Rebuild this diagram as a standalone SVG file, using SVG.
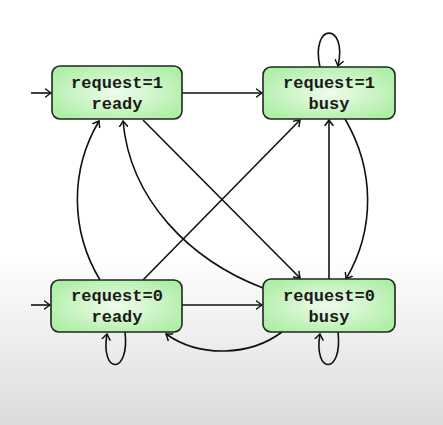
<svg xmlns="http://www.w3.org/2000/svg" width="443" height="425" viewBox="0 0 443 425">
<defs>
<linearGradient id="bg" x1="0" y1="0" x2="0" y2="425" gradientUnits="userSpaceOnUse">
<stop offset="0" stop-color="#ffffff"/>
<stop offset="0.6" stop-color="#ffffff"/>
<stop offset="1" stop-color="#dcdcdc"/>
</linearGradient>
<radialGradient id="nodefill" cx="0.5" cy="0.5" r="0.6">
<stop offset="0" stop-color="#effcec"/>
<stop offset="1" stop-color="#aeeea6"/>
</radialGradient>
<marker id="arr" viewBox="-6 -5 7 10" refX="0" refY="0" markerWidth="7" markerHeight="10" markerUnits="userSpaceOnUse" orient="auto">
<path d="M -5.5 -4 Q -1.5 -1 0 0 Q -1.5 1 -5.5 4" fill="none" stroke="#111" stroke-width="1.5" stroke-linecap="round"/>
</marker>
<style>
.node rect{fill:url(#nodefill);stroke:#1c2a1c;stroke-width:1.6}
.node text{font-family:"Liberation Mono","DejaVu Sans Mono",monospace;font-size:17px;font-weight:bold;fill:#1a1a1a;text-anchor:middle}
.edge{fill:none;stroke:#111;stroke-width:1.6;marker-end:url(#arr)}
</style>
</defs>
<rect x="0" y="0" width="443" height="425" fill="url(#bg)"/>
<g id="connectors">
<path class="edge" d="M 31 93 L 51 93"/>
<path class="edge" d="M 31 305 L 50 305"/>
<path class="edge" d="M 182 93 L 262 93"/>
<path class="edge" d="M 182 305 L 262 305"/>
<path class="edge" d="M 143 120 L 300 278"/>
<path class="edge" d="M 143 280 L 300 120"/>
<path class="edge" d="M 329 279 L 329 120"/>
<path class="edge" d="M 100 280 C 70 230, 70 170, 99 121"/>
<path class="edge" d="M 345 119 C 375 170, 375 230, 346 279"/>
<path class="edge" d="M 263 288 C 190 260, 130 200, 123 121"/>
<path class="edge" d="M 282 332 C 250 356, 200 358, 166 334"/>
<path class="edge" d="M 320 67 C 310 22, 348 22, 338 66"/>
<path class="edge" d="M 125 332 C 130 375, 100 375, 107 334"/>
<path class="edge" d="M 338 332 C 343 375, 313 375, 320 334"/>
</g>
<g id="n_r1_ready" class="node">
<rect x="52" y="66" width="130" height="53" rx="8"/>
<text x="117" y="88">request=1</text>
<text x="117" y="109">ready</text>
</g>
<g id="n_r1_busy" class="node">
<rect x="263" y="67" width="132" height="52" rx="8"/>
<text x="329" y="88">request=1</text>
<text x="329" y="109">busy</text>
</g>
<g id="n_r0_ready" class="node">
<rect x="51" y="280" width="131" height="52" rx="8"/>
<text x="117" y="301">request=0</text>
<text x="117" y="322">ready</text>
</g>
<g id="n_r0_busy" class="node">
<rect x="263" y="279" width="132" height="53" rx="8"/>
<text x="329" y="301">request=0</text>
<text x="329" y="322">busy</text>
</g>
</svg>
